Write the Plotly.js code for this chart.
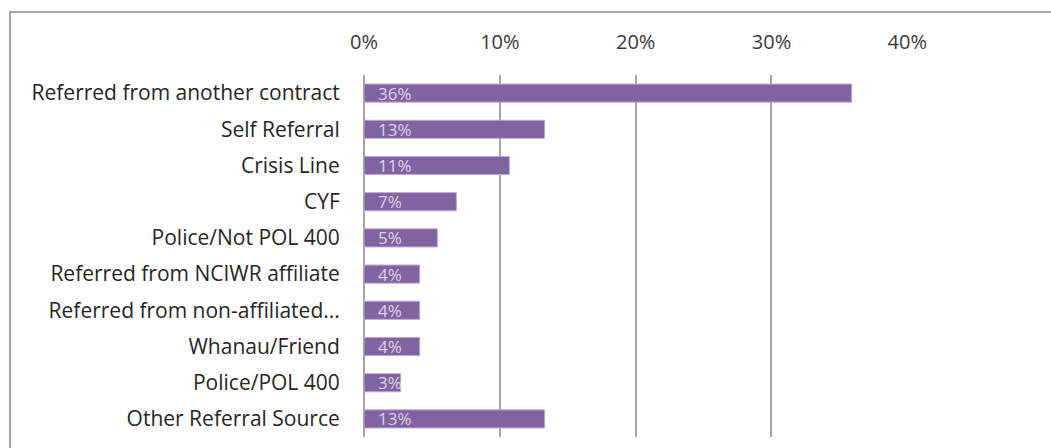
<!DOCTYPE html>
<html>
<head>
<meta charset="utf-8">
<script src="https://cdn.plot.ly/plotly-3.0.1.min.js"></script>
<style>
  html, body { margin: 0; padding: 0; background: #fff; }
  #wrap { position: absolute; left: 0; top: 0; width: 1051px; height: 448px; }
  #frame { position: absolute; left: 9px; top: 11px; width: 1100px; height: 500px;
           border-left: 2px solid #a6a6a6; border-top: 2px solid #a6a6a6; pointer-events: none; }
  #chart { position: absolute; left: 0; top: 0; width: 1051px; height: 448px; }
</style>
</head>
<body>
<div id="wrap">
  <div id="chart"></div>
  <div id="frame"></div>
</div>
<script>
const categories = [
  "Referred from another contract",
  "Self Referral",
  "Crisis Line",
  "CYF",
  "Police/Not POL 400",
  "Referred from NCIWR affiliate",
  "Referred from non-affiliated...",
  "Whanau/Friend",
  "Police/POL 400",
  "Other Referral Source"
];
const values = [35.9, 13.3, 10.7, 6.8, 5.4, 4.1, 4.1, 4.1, 2.7, 13.3];
const valueLabels = ["36%", "13%", "11%", "7%", "5%", "4%", "4%", "4%", "3%", "13%"];
const tickValues = [0, 10, 20, 30, 40];
const tickLabels = ["0%", "10%", "20%", "30%", "40%"];

const fontFamily = "Open Sans, Noto Sans, sans-serif";

const trace = {
  type: "bar",
  orientation: "h",
  y: categories,
  x: values,
  width: 0.5,
  marker: { color: "#8064a2", line: { color: "#b9a8d0", width: 1 } },
  hoverinfo: "none"
};

const annotations = categories.map((c, i) => ({
  x: 0, y: c, xref: "x", yref: "y",
  text: valueLabels[i],
  showarrow: false,
  xanchor: "left", yanchor: "middle",
  xshift: 12,
  font: { family: fontFamily, size: 17, color: "rgba(238,230,248,0.85)" }
}));

const layout = {
  width: 1051, height: 448,
  margin: { l: 364, r: 143, t: 75, b: 11, pad: 0 },
  paper_bgcolor: "rgba(0,0,0,0)",
  plot_bgcolor: "rgba(0,0,0,0)",
  showlegend: false,
  bargap: 0.5,
  xaxis: {
    side: "top",
    range: [0, 40.05],
    tickvals: tickValues,
    ticktext: tickLabels,
    showgrid: true,
    gridcolor: "#a6a6a6",
    gridwidth: 2,
    zeroline: true,
    zerolinecolor: "#a6a6a6",
    zerolinewidth: 2,
    showline: false,
    ticks: "outside",
    ticklen: 17,
    tickcolor: "rgba(0,0,0,0)",
    tickfont: { family: fontFamily, size: 20, color: "#3a3a3a" },
    fixedrange: true
  },
  yaxis: {
    autorange: "reversed",
    type: "category",
    showgrid: false,
    zeroline: false,
    showline: false,
    ticks: "outside",
    ticklen: 19,
    tickcolor: "rgba(0,0,0,0)",
    tickfont: { family: fontFamily, size: 21, color: "#262626" },
    fixedrange: true
  },
  annotations: annotations
};

Plotly.newPlot("chart", [trace], layout, { displayModeBar: false, staticPlot: true });
</script>
</body>
</html>
